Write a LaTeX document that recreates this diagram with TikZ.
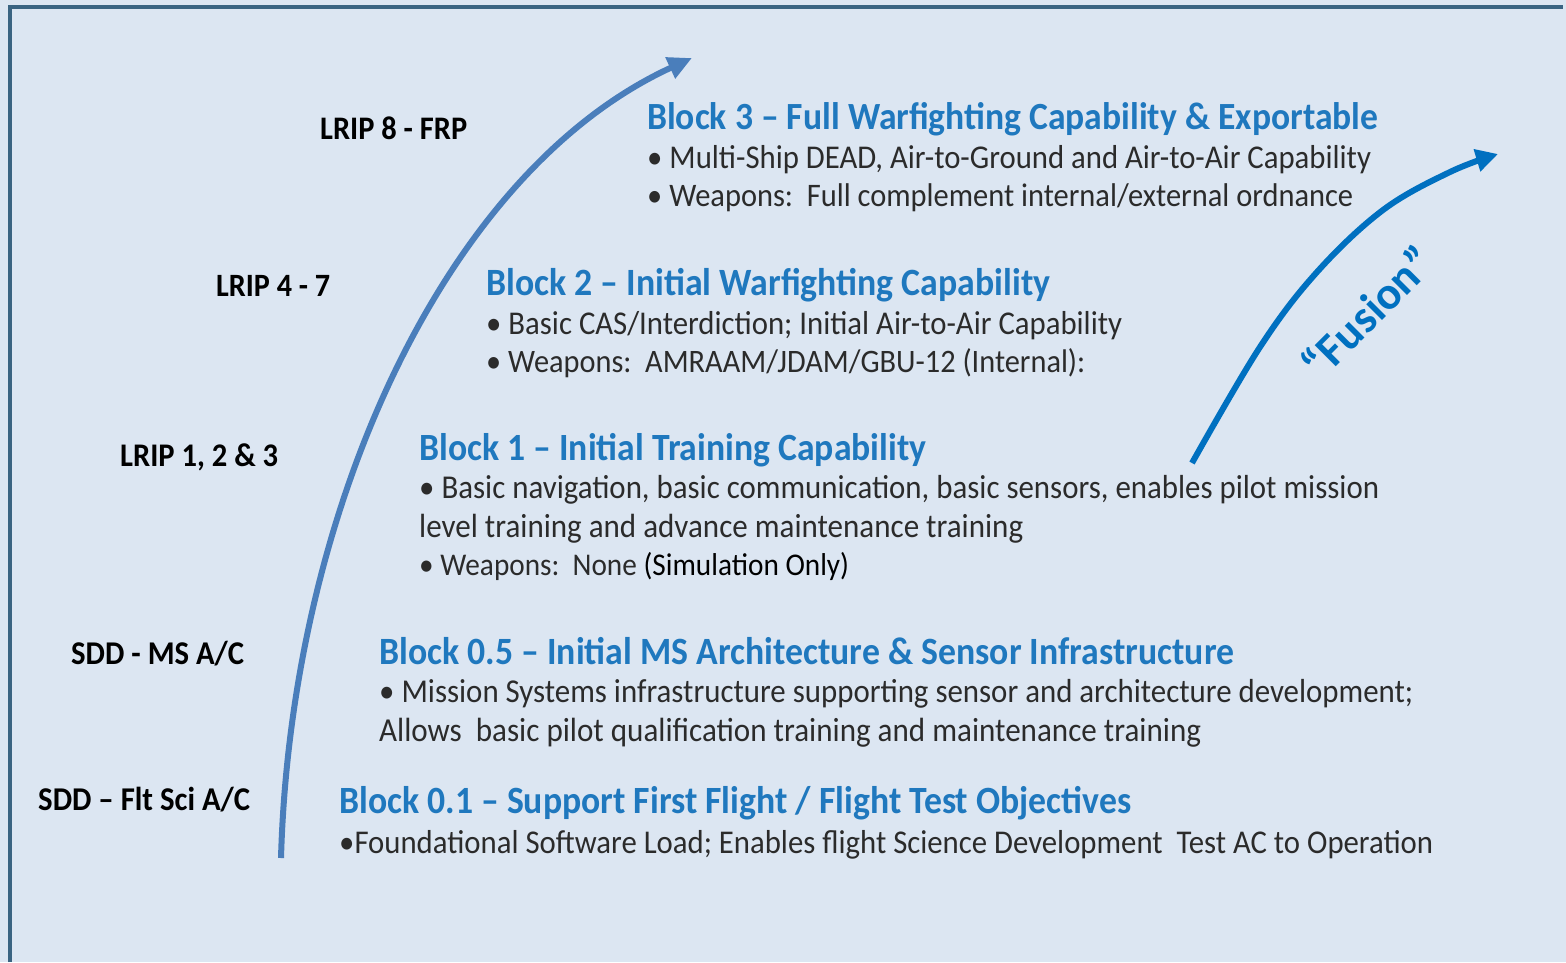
\documentclass[tikz,border=0pt]{standalone}
\usepackage{fontspec}
\setmainfont{Carlito}
\usetikzlibrary{arrows.meta}
\definecolor{bgc}{HTML}{DCE6F2}
\definecolor{framec}{HTML}{3A6482}
\definecolor{titlec}{HTML}{1F78BE}
\definecolor{bodyc}{HTML}{2B2B2B}
\definecolor{arrowA}{HTML}{4A7EBB}
\definecolor{arrowB}{HTML}{0070C0}
\newcommand{\fitline}[2]{\scalebox{1}[1.08]{\resizebox{#1pt}{!}{#2}}}
\begin{document}
\begin{tikzpicture}[x=1pt,y=-1pt,
  lbl/.style={anchor=base west, inner sep=0, font=\bfseries\fontsize{28}{34}\selectfont, text=black},
  ttl/.style={anchor=base west, inner sep=0, font=\bfseries\fontsize{34}{40}\selectfont, text=titlec},
  bdy/.style={anchor=base west, inner sep=0, font=\fontsize{29}{36}\selectfont, text=bodyc},
  arrA/.style={arrowA, line width=6pt, -{Triangle[length=24pt,width=22pt]}},
  arrB/.style={arrowB, line width=6pt, -{Triangle[length=22pt,width=22pt]}}]
\fill[bgc] (0,0) rectangle (1566,962);
\useasboundingbox (0,0) rectangle (1566,962);
\draw[framec, line width=3.5pt] (10,962) -- (10,7) -- (1563,7);

% left labels
\node[lbl] (l8) at (320,139) {\fitline{147}{LRIP 8 - FRP}};
\node[lbl] (l4) at (216,296) {\fitline{114}{LRIP 4 - 7}};
\node[lbl] (l1) at (120,466) {\fitline{158}{LRIP 1, 2 \& 3}};
\node[lbl] (lms) at (71,664) {\fitline{173}{SDD - MS A/C}};
\node[lbl] (lfs) at (38,810) {\fitline{212}{SDD – Flt Sci A/C}};

% block 3
\node[ttl] (b3) at (647,129) {\fitline{731}{Block 3 – Full Warfighting Capability \& Exportable}};
\node[bdy] (b3a) at (647,168) {\fitline{724}{• Multi-Ship DEAD, Air-to-Ground and Air-to-Air Capability}};
\node[bdy] (b3b) at (647,206) {\fitline{706}{• Weapons:\ \ Full complement internal/external ordnance}};
% block 2
\node[ttl] (b2) at (486,295) {\fitline{564}{Block 2 – Initial Warfighting Capability}};
\node[bdy] (b2a) at (486,334) {\fitline{636}{• Basic CAS/Interdiction; Initial Air-to-Air Capability}};
\node[bdy] (b2b) at (486,372) {\fitline{599}{• Weapons:\ \ AMRAAM/JDAM/GBU-12 (Internal):}};
% block 1
\node[ttl] (b1) at (419,460) {\fitline{507}{Block 1 – Initial Training Capability}};
\node[bdy] (b1a) at (419,498) {\fitline{960}{• Basic navigation, basic communication, basic sensors, enables pilot mission}};
\node[bdy] (b1b) at (419,537) {\fitline{604}{level training and advance maintenance training}};
\node[bdy] (b1c) at (419,575) {\fitline{430}{• Weapons:\ \ None {\color{black}(Simulation Only)}}};
% block 0.5
\node[ttl] (b05) at (379,664) {\fitline{855}{Block 0.5 – Initial MS Architecture \& Sensor Infrastructure}};
\node[bdy] (b05a) at (379,702) {\fitline{1034}{• Mission Systems infrastructure supporting sensor and architecture development;}};
\node[bdy] (b05b) at (379,741) {\fitline{822}{Allows\ \ basic pilot qualification training and maintenance training}};
% block 0.1
\node[ttl] (b01) at (339,813) {\fitline{792}{Block 0.1 – Support First Flight / Flight Test Objectives}};
\node[bdy] (b01a) at (339,853) {\fitline{1094}{•Foundational Software Load; Enables flight Science Development\ \ Test AC to Operation}};

% left growth arrow
\coordinate (aS) at (281,858);
\coordinate (aE) at (692,58);
\draw[arrA] (aS) .. controls (291,508) and (446,171) .. (aE);

% fusion arrow
\coordinate (fS) at (1192,463);
\coordinate (fE) at (1498,154);
\draw[arrB] plot[smooth, tension=0.6] coordinates {(fS) (1260,347) (1317,272) (1383,210) (1450,172) (fE)};
\node[rotate=45, text=arrowB, font=\bfseries\fontsize{46}{52}\selectfont, inner sep=0] (fus) at (1367,312) {“Fusion”};
\end{tikzpicture}
\end{document}
